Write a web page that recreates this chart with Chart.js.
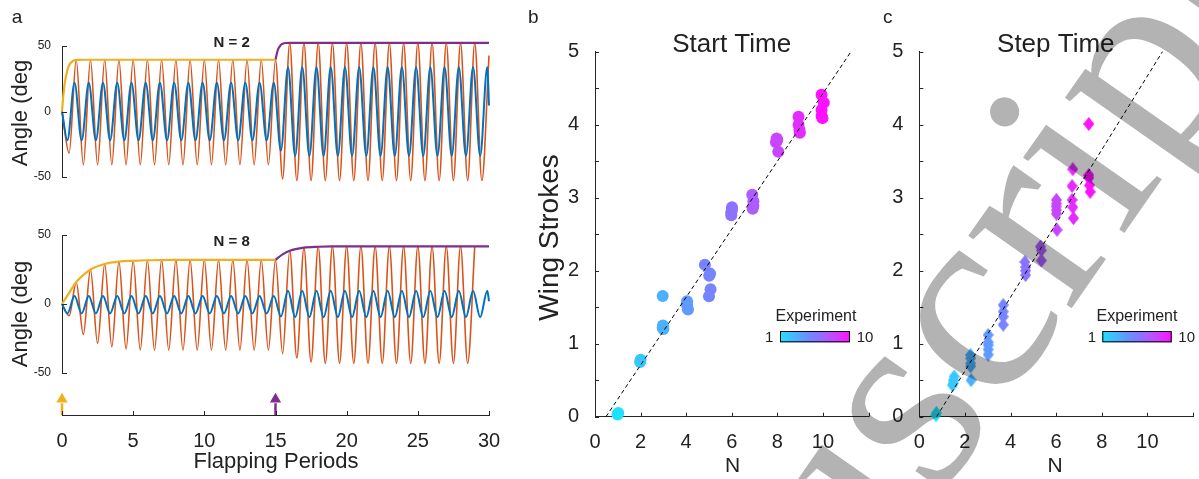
<!DOCTYPE html>
<html>
<head>
<meta charset="utf-8">
<script src="https://cdn.jsdelivr.net/npm/chart.js@4"></script>
<style>
  html, body { margin: 0; padding: 0; background: #fff; }
  #wrap { position: relative; width: 1199px; height: 479px; overflow: hidden; background: #fff; }
  #wrap canvas { position: absolute; }
  #mark { left: 0; top: 0; mix-blend-mode: multiply; pointer-events: none; z-index: 5; }
</style>
</head>
<body>
<div id="wrap">
  <canvas id="a1" width="500" height="195" style="left:0;top:0"></canvas>
  <canvas id="a2" width="500" height="190" style="left:0;top:195px"></canvas>
  <canvas id="a3" width="500" height="94" style="left:0;top:385px"></canvas>
  <canvas id="b" width="360" height="479" style="left:520px;top:0"></canvas>
  <canvas id="c" width="319" height="479" style="left:880px;top:0"></canvas>
  <canvas id="mark" width="1199" height="479"></canvas>
</div>
<script>
// ---- panel a: time axis (flapping periods) ----
const tOrange = [0,0.5,1,1.5,2,2.5,3,3.5,4,4.5,5,5.5,6,6.5,7,7.5,8,8.5,9,9.5,10,10.5,11,11.5,12,12.5,13,13.5,14,14.5,
  15,15.5,16,16.5,17,17.5,18,18.5,19,19.5,20,20.5,21,21.5,22,22.5,23,23.5,24,24.5,25,25.5,26,26.5,27,27.5,28,28.5,29,29.5,30];
const tBlue = [0,0.38,0.88,1.38,1.88,2.38,2.88,3.38,3.88,4.38,4.88,5.38,5.88,6.38,6.88,7.38,7.88,8.38,8.88,9.38,9.88,
  10.38,10.88,11.38,11.88,12.38,12.88,13.38,13.88,14.38,14.88,15.38,15.88,16.38,16.88,17.38,17.88,18.38,18.88,19.38,19.88,
  20.38,20.88,21.38,21.88,22.38,22.88,23.38,23.88,24.38,24.88,25.38,25.88,26.38,26.88,27.38,27.88,28.38,28.88,29.38,29.88,30];

// N = 2
const orangeN2 = [0,-31.8,39.5,-40.7,39.5,-40.7,39.5,-40.7,39.5,-40.7,39.5,-40.7,39.5,-40.7,39.5,-40.7,39.5,-40.7,39.5,-40.7,
  39.5,-40.7,39.5,-40.7,39.5,-40.7,39.5,-40.7,39.5,-40.7,39.5,-51.4,52.4,-52.7,52.4,-52.7,52.4,-52.7,52.4,-52.7,52.4,-52.7,
  52.4,-52.7,52.4,-52.7,52.4,-52.7,52.4,-52.7,52.4,-52.7,52.4,-52.7,52.4,-52.7,52.4,-52.7,52.4,-52.7,42.7];
const blueN2 = [0,-22,22,-22,22,-22,22,-22,22,-22,22,-22,22,-22,22,-22,22,-22,22,-22,22,-22,22,-22,22,-22,22,-22,22,-22,22,
  -30,34,-34,34,-34,34,-34,34,-34,34,-34,34,-34,34,-34,34,-34,34,-34,34,-34,34,-34,34,-34,34,-34,34,-34,34,4.6];
const tYellowN2 = [0,0.1,0.2,0.3,0.45,0.6,0.8,1.1,1.5,15];
const yellowN2 = [0,13,22,28,34,37,38.8,39.4,39.5,39.5];
const tPurpleN2 = [15,15.1,15.2,15.35,15.5,15.75,16,30];
const purpleN2 = [39.5,44.5,48,50.5,51.7,52.3,52.4,52.4];

// N = 8
const orangeN8 = [0,-8.5,15.7,-22,25,-28.5,29,-31,30.7,-32.6,31.3,-33.3,31.7,-33.5,32,-33.5,32,-33.5,32,-33.5,32,-33.5,
  32,-33.5,32,-33.5,32,-33.5,32,-33.5,32,-36,38.6,-39,40.8,-42,41.5,-43,41.8,-43,41.8,-43,41.8,-43,41.8,-43,41.8,-43,
  41.8,-43,41.8,-43,41.8,-43,41.8,-43,41.8,-43,41.8];
const blueN8 = [0,-6.8,5.8,-6.8,5.8,-6.8,5.8,-6.8,5.8,-6.8,5.8,-6.8,5.8,-6.8,5.8,-6.8,5.8,-6.8,5.8,-6.8,5.8,-6.8,5.8,
  -6.8,5.8,-6.8,5.8,-6.8,5.8,-6.8,5.8,-9,9.6,-9.6,9.6,-9.6,9.6,-9.6,9.6,-9.6,9.6,-9.6,9.6,-9.6,9.6,-9.6,9.6,-9.6,9.6,
  -9.6,9.6,-9.6,9.6,-9.6,9.6,-9.6,9.6,-9.6,9.6,-9.6,9.6,2];
const tYellowN8 = [0,0.5,1,1.5,2,3,4,5,6,8,15];
const yellowN8 = [0,8,16,21,25,29,30.7,31.3,31.7,32,32];
const tPurpleN8 = [15,15.5,16,17,18,19,30];
const purpleN8 = [32,36,38.6,40.8,41.5,41.8,41.8];

// stimulus arrows (start time, step time)
const arrowT = [0, 15];

// ---- panel b: start time ----
const startN   = [0.99,1.02,2.0,1.98,2.97,2.98,3.0,2.97,4.04,4.04,4.08,4.03,4.82,5.01,5.05,5.07,5.0,6.01,5.98,5.98,6.01,
  6.9,6.95,6.95,6.92,7.97,7.94,8.04,8.0,8.93,8.93,8.99,8.97,9.94,10.04,9.94,9.94,9.98];
const startWS  = [0.03,0.05,0.78,0.75,1.655,1.25,1.2,1.22,1.58,1.53,1.47,1.55,2.08,1.93,1.96,1.745,1.65,2.87,2.8,2.76,2.84,
  3.04,2.95,2.89,2.85,3.81,3.76,3.63,3.79,4.11,4.0,3.89,3.93,4.41,4.3,4.2,4.12,4.09];
const startExp = [1,1,2,2,3,3,3,3,4,4,4,4,5,5,5,5,5,6,6,6,6,7,7,7,7,8,8,8,8,9,9,9,9,10,10,10,10,10];
const startFit = [[0.48,0],[11.23,5]];

// ---- panel c: step time ----
const stepN   = [0.73,0.75,1.49,1.49,1.53,1.46,2.25,2.25,2.25,2.25,2.27,3.02,3.02,3.02,3.02,3.02,3.68,3.68,3.68,3.68,
  4.63,4.66,4.66,4.66,5.31,5.35,5.35,6.01,6.01,6.0,6.01,6.01,6.04,6.73,6.7,6.7,6.73,6.76,7.43,7.43,7.43,7.46,7.49];
const stepWS  = [0.02,0.05,0.5,0.46,0.55,0.43,0.845,0.8,0.73,0.69,0.5,1.12,1.02,0.98,0.92,0.85,1.53,1.44,1.37,1.26,
  2.12,2.05,2.0,1.94,2.33,2.28,2.14,2.97,2.92,2.88,2.83,2.78,2.56,3.39,3.16,2.97,2.87,2.72,4.01,3.31,3.27,3.17,3.08];
const stepExp = [1,1,2,2,2,2,3,3,3,3,3,4,4,4,4,4,5,5,5,5,6,6,6,6,7,7,7,8,8,8,8,8,8,9,9,9,9,9,10,10,10,10,10];
const stepFit = [[0.76,0],[10.66,5]];

// experiment colour map (1..10)
const expColors = ['#1ee1ff','#37c8ff','#4bb1ff','#5f9aff','#7684ff','#8c72ff','#ac5cff','#c846ff','#e42cff','#ff10ff'];

const FONT = '"Liberation Sans", Arial, Helvetica, sans-serif';
const INK = '#222';
const ORANGE = '#D95319', BLUE = '#0072BD', YELLOW = '#EDB120', PURPLE = '#7E2F8E';

Chart.defaults.font.family = FONT;
Chart.defaults.color = INK;

function pts(xs, ys) { return xs.map((x, i) => ({ x: x, y: ys[i] })); }

// text drawn onto a chart canvas
const textPlugin = {
  id: 'texts',
  afterDraw(chart, args, opts) {
    const ctx = chart.ctx;
    (opts.items || []).forEach(it => {
      ctx.save();
      ctx.font = (it.weight || 'normal') + ' ' + it.size + 'px ' + FONT;
      ctx.fillStyle = it.color || INK;
      ctx.textAlign = it.align || 'center';
      ctx.textBaseline = 'alphabetic';
      ctx.translate(it.x, it.y);
      if (it.rot) ctx.rotate(it.rot * Math.PI / 180);
      ctx.fillText(it.t, 0, 0);
      ctx.restore();
    });
  }
};

// MATLAB style inward tick marks
const tickPlugin = {
  id: 'inTicks',
  afterDraw(chart, args, opts) {
    const ctx = chart.ctx, a = chart.chartArea, len = opts.len || 4;
    ctx.save();
    ctx.strokeStyle = '#262626';
    ctx.lineWidth = 1;
    ctx.beginPath();
    (opts.x || []).forEach(v => {
      const px = Math.round(chart.scales.x.getPixelForValue(v)) + 0.5;
      ctx.moveTo(px, a.bottom); ctx.lineTo(px, a.bottom - len);
    });
    (opts.y || []).forEach(v => {
      const py = Math.round(chart.scales.y.getPixelForValue(v)) + 0.5;
      ctx.moveTo(a.left, py); ctx.lineTo(a.left + len, py);
    });
    ctx.stroke();
    ctx.restore();
  }
};

// colorbar legend for the experiment colours
const barPlugin = {
  id: 'colorbar',
  afterDraw(chart, args, opts) {
    if (!opts.box) return;
    const ctx = chart.ctx, [x, y, w, h] = opts.box;
    const g = ctx.createLinearGradient(x, 0, x + w, 0);
    expColors.forEach((c, i) => g.addColorStop(i / (expColors.length - 1), c));
    ctx.save();
    ctx.fillStyle = g;
    ctx.fillRect(x, y, w, h);
    ctx.strokeStyle = '#000';
    ctx.lineWidth = 1;
    ctx.strokeRect(x + 0.5, y + 0.5, w - 1, h - 1);
    ctx.restore();
  }
};

function waveDatasets(tO, o, tB, b, tY, yv, tP, pv) {
  const line = { pointRadius: 0, cubicInterpolationMode: 'monotone', clip: false, fill: false };
  return [
    Object.assign({ data: pts(tY, yv), borderColor: YELLOW, borderWidth: 2.2 }, line),
    Object.assign({ data: pts(tP, pv), borderColor: PURPLE, borderWidth: 2.2 }, line),
    Object.assign({ data: pts(tB, b), borderColor: BLUE, borderWidth: 2 }, line),
    Object.assign({ data: pts(tO, o), borderColor: ORANGE, borderWidth: 1.6 }, line)
  ];
}

function waveChart(id, sets, pad, texts) {
  return new Chart(document.getElementById(id), {
    type: 'line',
    data: { datasets: sets },
    options: {
      responsive: false, animation: false, devicePixelRatio: 1,
      layout: { padding: pad },
      plugins: { legend: { display: false }, tooltip: { enabled: false },
        texts: { items: texts }, inTicks: { y: [-50, 0, 50], len: 5 } },
      scales: {
        x: { type: 'linear', min: 0, max: 30, display: false },
        y: {
          min: -50, max: 50,
          ticks: { stepSize: 50, font: { size: 12 }, color: INK, padding: 3 },
          grid: { display: false },
          border: { display: true, color: '#262626', width: 1 },
          afterFit: s => { s.width = 62; s.paddingTop = 0; s.paddingBottom = 0; }
        }
      }
    },
    plugins: [textPlugin, tickPlugin]
  });
}

waveChart('a1', waveDatasets(tOrange, orangeN2, tBlue, blueN2, tYellowN2, yellowN2, tPurpleN2, purpleN2),
  { left: 0, top: 46, right: 11, bottom: 18 },
  [ { t: 'a', x: 11.7, y: 23.3, size: 19, align: 'left' },
    { t: 'N = 2', x: 231.7, y: 46.7, size: 15, weight: 'bold' },
    { t: 'Angle (deg', x: 26.8, y: 113, size: 22, rot: -90 } ]);

waveChart('a2', waveDatasets(tOrange, orangeN8, tBlue, blueN8, tYellowN8, yellowN8, tPurpleN8, purpleN8),
  { left: 0, top: 40, right: 11, bottom: 12 },
  [ { t: 'N = 8', x: 231.7, y: 51, size: 15, weight: 'bold' },
    { t: 'Angle (deg', x: 26.8, y: 119, size: 22, rot: -90 } ]);

// shared time axis with stimulus arrows
const arrowColors = [YELLOW, PURPLE];
const arrowSets = [];
arrowT.forEach((t, i) => {
  arrowSets.push({ type: 'line', data: [{ x: t, y: 0 }, { x: t, y: 0.5 }], borderColor: arrowColors[i],
    borderWidth: 2.5, pointRadius: 0, clip: false });
  arrowSets.push({ type: 'scatter', data: [{ x: t, y: 0.67 }], pointStyle: 'triangle', pointRadius: 6.5,
    backgroundColor: arrowColors[i], borderWidth: 0, clip: false });
});
new Chart(document.getElementById('a3'), {
  type: 'scatter',
  data: { datasets: arrowSets },
  options: {
    responsive: false, animation: false, devicePixelRatio: 1,
    layout: { padding: { left: 62, top: 5, right: 11, bottom: 0 } },
    plugins: { legend: { display: false }, tooltip: { enabled: false },
      texts: { items: [ { t: 'Flapping Periods', x: 276, y: 83, size: 22 } ] },
      inTicks: { x: [0, 5, 10, 15, 20, 25, 30], len: 4 } },
    scales: {
      x: {
        type: 'linear', min: 0, max: 30,
        ticks: { stepSize: 5, font: { size: 20 }, color: INK, padding: 6, maxRotation: 0 },
        grid: { display: false },
        border: { display: true, color: '#262626', width: 1 },
        afterFit: s => { s.height = 64; s.paddingLeft = 0; s.paddingRight = 0; }
      },
      y: { min: 0, max: 1, display: false }
    }
  },
  plugins: [textPlugin, tickPlugin]
});

// diamond markers (narrow, MATLAB 'd')
function diamond(color) {
  const c = document.createElement('canvas');
  c.width = 11; c.height = 14;
  const g = c.getContext('2d');
  g.fillStyle = color;
  g.beginPath();
  g.moveTo(5.5, 0); g.lineTo(11, 7); g.lineTo(5.5, 14); g.lineTo(0, 7);
  g.closePath(); g.fill();
  return c;
}
const diamonds = expColors.map(diamond);

function scatterChart(id, xs, ys, exps, fit, marker, yWidth, rightPad, texts, box) {
  const fitSet = {
    type: 'line', data: fit.map(p => ({ x: p[0], y: p[1] })), borderColor: '#000', borderWidth: 1,
    borderDash: [4, 3], pointRadius: 0, clip: false
  };
  const ptSet = {
    data: pts(xs, ys),
    backgroundColor: exps.map(e => expColors[e - 1]),
    borderWidth: 0,
    pointRadius: 6,
    pointStyle: marker === 'diamond' ? exps.map(e => diamonds[e - 1]) : 'circle',
    clip: false
  };
  return new Chart(document.getElementById(id), {
    type: 'scatter',
    data: { datasets: [fitSet, ptSet] },
    options: {
      responsive: false, animation: false, devicePixelRatio: 1,
      layout: { padding: { left: 0, top: 51.7, right: rightPad, bottom: 0 } },
      plugins: { legend: { display: false }, tooltip: { enabled: false },
        texts: { items: texts }, colorbar: { box: box },
        inTicks: { x: [0, 2, 4, 6, 8, 10, 12], y: [0, 0.5, 1, 1.5, 2, 2.5, 3, 3.5, 4, 4.5, 5], len: 4 } },
      scales: {
        x: {
          type: 'linear', min: 0, max: 12,
          ticks: { stepSize: 2, font: { size: 20 }, color: INK, padding: 5.4, maxRotation: 0,
            callback: v => (v > 10 ? '' : v) },
          grid: { display: false },
          border: { display: true, color: '#262626', width: 1 },
          afterFit: s => { s.height = 62.3; s.paddingLeft = 0; s.paddingRight = 0; }
        },
        y: {
          min: 0, max: 5,
          ticks: { stepSize: 1, font: { size: 20 }, color: INK, padding: 8 },
          grid: { display: false },
          border: { display: true, color: '#262626', width: 1 },
          afterFit: s => { s.width = yWidth; s.paddingTop = 0; s.paddingBottom = 0; }
        }
      }
    },
    plugins: [textPlugin, tickPlugin, barPlugin]
  });
}

scatterChart('b', startN, startWS, startExp, startFit, 'circle', 75, 11.5,
  [ { t: 'b', x: 8, y: 23.3, size: 19, align: 'left' },
    { t: 'Start Time', x: 211.7, y: 51.5, size: 26 },
    { t: 'Wing Strokes', x: 38, y: 237.5, size: 28, rot: -90 },
    { t: 'N', x: 212.5, y: 471.7, size: 21 },
    { t: 'Experiment', x: 296, y: 320.7, size: 16 },
    { t: '1', x: 253.3, y: 342, size: 15, align: 'right' },
    { t: '10', x: 336.7, y: 342, size: 15, align: 'left' } ],
  [260, 331, 70, 11.3]);

scatterChart('c', stepN, stepWS, stepExp, stepFit, 'diamond', 39.3, 5.6,
  [ { t: 'c', x: 3, y: 23.3, size: 19, align: 'left' },
    { t: 'Step Time', x: 175.8, y: 51.5, size: 26 },
    { t: 'N', x: 175, y: 471.7, size: 21 },
    { t: 'Experiment', x: 257, y: 320.7, size: 16 },
    { t: '1', x: 216, y: 342, size: 15, align: 'right' },
    { t: '10', x: 298.3, y: 342, size: 15, align: 'left' } ],
  [222.3, 331, 69.4, 11.3]);

// "Manuscript" watermark laid over the figure
(function () {
  const ctx = document.getElementById('mark').getContext('2d');
  const size = 275;
  ctx.font = size + 'px "Liberation Serif", "DejaVu Serif", serif';
  const pre = ctx.measureText('Manuscr').width;
  const iw = ctx.measureText('i').width;
  ctx.fillStyle = '#b3b3b3';
  ctx.translate(1001, 107);
  ctx.rotate(-55 * Math.PI / 180);
  ctx.fillText('Manuscript', -(pre + iw / 2), 0.63 * size);
})();
</script>
</body>
</html>
